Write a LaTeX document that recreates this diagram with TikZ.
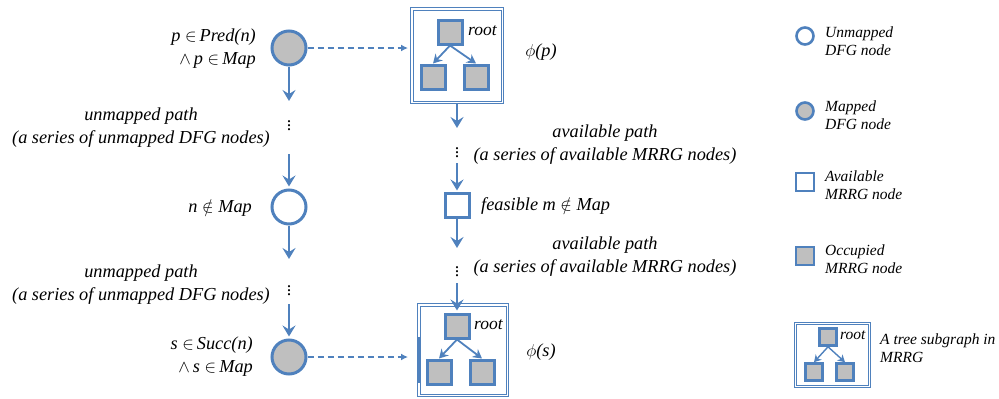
\documentclass[tikz,border=0pt]{standalone}
\usepackage{fontspec}
\setmainfont{Liberation Serif}
\usetikzlibrary{arrows.meta}
\definecolor{bl}{RGB}{79,129,189}
\definecolor{gr}{RGB}{191,191,191}
\begin{document}
\begin{tikzpicture}[x=1pt,y=-1pt,
  dfg/.style={circle,draw=bl,line width=3pt,minimum size=34pt,inner sep=0pt},
  mapped/.style={dfg,fill=gr},
  ldfg/.style={circle,draw=bl,line width=2.6pt,minimum size=17pt,inner sep=0pt},
  lmapped/.style={ldfg,fill=gr},
  mrrg/.style={rectangle,draw=bl,line width=3pt,minimum size=24pt,inner sep=0pt},
  occ/.style={mrrg,fill=gr},
  lmrrg/.style={rectangle,draw=bl,line width=2.6pt,minimum size=18pt,inner sep=0pt},
  locc/.style={lmrrg,fill=gr},
  tsq/.style={rectangle,draw=bl,fill=gr,line width=2.6pt,minimum size=17pt,inner sep=0pt},
  treebox/.style={rectangle,draw=bl,line width=0.9pt,inner sep=0pt},
  innerline/.style={draw=bl,line width=0.9pt},
  flow/.style={draw=bl,line width=1.8pt,-{Stealth[length=11pt,width=13pt,inset=4pt]}},
  tarrow/.style={draw=bl,line width=1.8pt,-{Stealth[length=9pt,width=10pt,inset=3pt]}},
  ltarrow/.style={draw=bl,line width=1.4pt,-{Stealth[length=7pt,width=8pt,inset=2pt]}},
  dasharrow/.style={draw=bl,line width=1.4pt,dash pattern=on 6pt off 4pt,-{Latex[length=7pt,width=7pt]}},
  lbl/.style={font=\itshape\fontsize{18.3}{23}\selectfont,inner sep=0pt},
  leg/.style={font=\itshape\fontsize{15.5}{18.5}\selectfont,inner sep=0pt,align=left,anchor=west},
  rt/.style={font=\itshape\fontsize{17.5}{18}\selectfont,inner sep=0pt,anchor=west},
  vdots/.style={font=\fontsize{18}{18}\selectfont,inner sep=0pt}
]
\useasboundingbox (0,0) rectangle (999,399);

% ---- left column (DFG) ----
\node[mapped] (p) at (289,48) {};
\node[dfg] (n) at (289,207) {};
\node[mapped] (s) at (289,357) {};

\node[lbl,align=right,anchor=east] (plab) at (256,49) {p $\in$\,Pred(n)\\$\wedge$\,p $\in$\,Map};
\node[lbl,anchor=east] (nlab) at (252,208) {n $\notin$ Map};
\node[lbl,align=right,anchor=east] (slab) at (253,357) {s $\in$\,Succ(n)\\$\wedge$\,s $\in$\,Map};

\coordinate (a1) at (289,101);
\node[vdots] (d1) at (289,123) {$\vdots$};
\coordinate (a2) at (289,154);
\coordinate (a3) at (289,259);
\node[vdots] (d2) at (289,288) {$\vdots$};
\coordinate (a4) at (289,304);

\draw[flow] (p.south) -- (a1);
\draw[flow,shorten >=2pt] (a2) -- (n.north);
\draw[flow] (n.south) -- (a3);
\draw[flow,shorten >=2pt] (a4) -- (s.north);

\node[lbl,align=center] (up1) at (141,128) {unmapped path\\(a series of unmapped DFG nodes)};
\node[lbl,align=center] (up2) at (141,285) {unmapped path\\(a series of unmapped DFG nodes)};

% ---- right column (MRRG) ----
\node[treebox,minimum width=93pt,minimum height=96pt] (bp) at (457,55.5) {};
\draw[innerline] ([shift={(3pt,-3pt)}]bp.north west) rectangle ([shift={(-3pt,3pt)}]bp.south east);
\node[occ] (bpt) at (450,32) {};
\node[occ] (bpl) at (433,77) {};
\node[occ] (bpr) at (476,77) {};
\node[rt] (bproot) at (468,31) {root};
\draw[tarrow] (bpt.south) -- (bpl.north);
\draw[tarrow] (bpt.south) -- (bpr.north);
\node[lbl] (phip) at (541,52) {$\phi$(p)};

\node[mrrg] (m) at (457,205) {};
\node[lbl,anchor=west] (mlab) at (481,206) {feasible m $\notin$ Map};

\coordinate (b1) at (457,128);
\node[vdots] (e1) at (457,150) {$\vdots$};
\coordinate (b2) at (457,163);
\coordinate (b3) at (457,248);
\node[vdots] (e2) at (457,269) {$\vdots$};
\coordinate (b4) at (457,283);

\draw[flow] (bp.south -| b1) -- (b1);
\draw[flow,shorten >=1pt] (b2) -- (m.north);
\draw[flow] (m.south) -- (b3);

\node[lbl,align=center] (ap1) at (605,145) {available path\\(a series of available MRRG nodes)};
\node[lbl,align=center] (ap2) at (605,257) {available path\\(a series of available MRRG nodes)};

\node[treebox,minimum width=91pt,minimum height=93pt] (bs) at (463,350) {};
\draw[innerline] ([shift={(3pt,-3pt)}]bs.north west) rectangle ([shift={(-3pt,3pt)}]bs.south east);
\node[occ] (bst) at (457,326) {};
\node[occ] (bsl) at (439,372) {};
\node[occ] (bsr) at (482,372) {};
\node[rt] (bsroot) at (474,325) {root};
\draw[tarrow] (bst.south) -- (bsl.north);
\draw[tarrow] (bst.south) -- (bsr.north);
\draw[flow,shorten >=2pt] (b4) -- (bst.north);
\coordinate (vb1) at (419,337);
\coordinate (vb2) at (419,383);
\draw[bl,line width=2.4pt] (vb1) -- (vb2);
\node[lbl] (phis) at (541,352) {$\phi$(s)};

% dashed mapping arrows
\coordinate (tp) at (408,48);
\coordinate (ts) at (408,357);
\draw[dasharrow] (p.east) -- (tp);
\draw[dasharrow] (s.east) -- (ts);

% ---- legend ----
\node[ldfg] (l1) at (805,36) {};
\node[leg] (l1t) at (825,41) {Unmapped\\DFG node};
\node[lmapped] (l2) at (805,111) {};
\node[leg] (l2t) at (825,115) {Mapped\\DFG node};
\node[lmrrg] (l3) at (805,182) {};
\node[leg] (l3t) at (825,185) {Available\\MRRG node};
\node[locc] (l4) at (805,256) {};
\node[leg] (l4t) at (825,259) {Occupied\\MRRG node};

\node[treebox,minimum width=76pt,minimum height=65pt] (l5) at (832.5,355) {};
\draw[innerline] ([shift={(2.5pt,-2.5pt)}]l5.north west) rectangle ([shift={(-2.5pt,2.5pt)}]l5.south east);
\node[tsq] (l5t) at (828,337) {};
\node[tsq] (l5l) at (814,372) {};
\node[tsq] (l5r) at (845,372) {};
\node[font=\itshape\fontsize{15.5}{16}\selectfont,inner sep=0pt,anchor=west] (l5root) at (840,335) {root};
\draw[ltarrow] (l5t.south) -- (l5l.north);
\draw[ltarrow] (l5t.south) -- (l5r.north);
\node[leg] (l5txt) at (880,348) {A tree subgraph in\\MRRG};
\end{tikzpicture}
\end{document}
